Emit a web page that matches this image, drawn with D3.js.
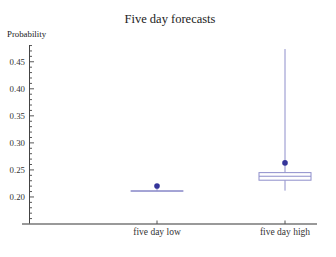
<!DOCTYPE html>
<html>
<head>
<meta charset="utf-8">
<script src="https://cdn.jsdelivr.net/npm/d3@7"></script>
<style>
html,body{margin:0;padding:0;background:#fff;}
svg{display:block;font-family:"Liberation Serif","DejaVu Serif",serif;}
</style>
</head>
<body>
<svg id="chart" width="336" height="257"></svg>
<script>
const categories = ["five day low", "five day high"];
const whiskerLow = [0.211, 0.2117];
const q1 = [0.2108, 0.231];
const median = [0.211, 0.2383];
const q3 = [0.2112, 0.245];
const whiskerHigh = [0.2185, 0.4735];
const means = [0.2204, 0.263];
const majorTicks = [0.20, 0.25, 0.30, 0.35, 0.40, 0.45];
const tickLabels = ["0.20", "0.25", "0.30", "0.35", "0.40", "0.45"];

const svg = d3.select("#chart");
const y = d3.scaleLinear().domain([0.15, 0.481]).range([224, 45]);
const x = d3.scalePoint().domain(categories).range([157, 285]);
const boxW = 52;
const boxColor = "#8e8ecb";
const dotColor = "#35359a";

// title
svg.append("text").attr("x", 170).attr("y", 23).attr("text-anchor", "middle")
  .attr("font-size", 12.5).attr("fill", "#222").text("Five day forecasts");
svg.append("text").attr("x", 7).attr("y", 37)
  .attr("font-size", 8.8).attr("fill", "#222").text("Probability");

// y axis
const axisX = 29.5;
svg.append("line").attr("x1", axisX).attr("x2", axisX).attr("y1", y(0.481)).attr("y2", 224)
  .attr("stroke", "#444").attr("stroke-width", 1);
const minor = d3.range(16, 49).map(v => v / 100);
svg.selectAll(".minor").data(minor).enter().append("line")
  .attr("x1", axisX).attr("x2", d => axisX + (Math.round(d * 100) % 5 === 0 ? 4.5 : 2.5))
  .attr("y1", d => y(d)).attr("y2", d => y(d))
  .attr("stroke", "#444").attr("stroke-width", 0.9);
svg.selectAll(".tl").data(majorTicks).enter().append("text")
  .attr("x", 25).attr("y", d => y(d) + 3).attr("text-anchor", "end")
  .attr("font-size", 8.8).attr("fill", "#333")
  .text((d, i) => tickLabels[i]);

// x axis
svg.append("line").attr("x1", 22).attr("x2", 317).attr("y1", 224).attr("y2", 224)
  .attr("stroke", "#777").attr("stroke-width", 1.6);
svg.selectAll(".xt").data(categories).enter().append("line")
  .attr("x1", d => x(d)).attr("x2", d => x(d)).attr("y1", 224).attr("y2", 220.5)
  .attr("stroke", "#555").attr("stroke-width", 1);
svg.selectAll(".xl").data(categories).enter().append("text")
  .attr("x", d => x(d)).attr("y", 235).attr("text-anchor", "middle")
  .attr("font-size", 9.5).attr("fill", "#333").text(d => d);

// boxes
categories.forEach((c, i) => {
  const cx = x(c);
  const g = svg.append("g");
  g.append("line").attr("x1", cx).attr("x2", cx).attr("y1", y(whiskerLow[i])).attr("y2", y(q1[i]))
    .attr("stroke", boxColor).attr("stroke-width", 1);
  g.append("line").attr("x1", cx).attr("x2", cx).attr("y1", y(q3[i])).attr("y2", y(whiskerHigh[i]))
    .attr("stroke", boxColor).attr("stroke-width", 1);
  g.append("rect").attr("x", cx - boxW / 2).attr("width", boxW)
    .attr("y", y(q3[i])).attr("height", Math.max(0.1, y(q1[i]) - y(q3[i])))
    .attr("fill", "#fff").attr("stroke", boxColor).attr("stroke-width", 1);
  g.append("line").attr("x1", cx - boxW / 2).attr("x2", cx + boxW / 2)
    .attr("y1", y(median[i])).attr("y2", y(median[i]))
    .attr("stroke", boxColor).attr("stroke-width", 1);
  g.append("circle").attr("cx", cx).attr("cy", y(means[i])).attr("r", 2.8).attr("fill", dotColor);
});
</script>
</body>
</html>
